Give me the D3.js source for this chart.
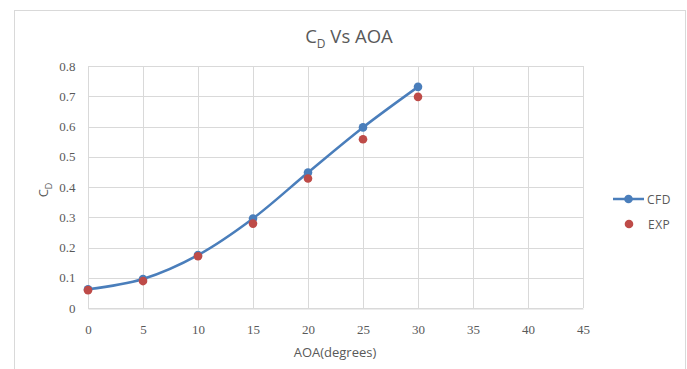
<!DOCTYPE html>
<html>
<head>
<meta charset="utf-8">
<script src="https://cdn.jsdelivr.net/npm/d3@7"></script>
<style>
  html, body { margin: 0; padding: 0; background: #fff; }
  svg { display: block; }
</style>
</head>
<body>
<svg id="chart" width="687" height="369"></svg>
<script>
// Drag coefficient against angle of attack
const aoa = [0, 5, 10, 15, 20, 25, 30];
const cfd = [0.062, 0.096, 0.175, 0.296, 0.448, 0.597, 0.731];
const exp = [0.059, 0.089, 0.171, 0.279, 0.428, 0.558, 0.698];
const xTicks = [0, 5, 10, 15, 20, 25, 30, 35, 40, 45];
const yTicks = [0, 0.1, 0.2, 0.3, 0.4, 0.5, 0.6, 0.7, 0.8];

const svg = d3.select("#chart");
const blue = "#4a7ebb", red = "#be4b48", grid = "#d9d9d9", txt = "#595959";
const sans = "'Open Sans', 'Noto Sans', sans-serif";
const serif = "'Liberation Serif', 'DejaVu Serif', serif";

// chart area frame
svg.append("rect").attr("x", 14.5).attr("y", 10.5).attr("width", 671).attr("height", 380)
  .attr("fill", "#fff").attr("stroke", "#d9d9d9").attr("stroke-width", 1);

const x = d3.scaleLinear().domain([0, 45]).range([88, 583]);
const y = d3.scaleLinear().domain([0, 0.8]).range([308, 66]);

// gridlines
svg.append("g").selectAll("line").data(yTicks).join("line")
  .attr("x1", x(0)).attr("x2", x(45))
  .attr("y1", d => Math.round(y(d)) + 0.5).attr("y2", d => Math.round(y(d)) + 0.5)
  .attr("stroke", grid);
svg.append("g").selectAll("line").data(xTicks).join("line")
  .attr("y1", y(0)).attr("y2", y(0.8))
  .attr("x1", d => Math.round(x(d)) + 0.5).attr("x2", d => Math.round(x(d)) + 0.5)
  .attr("stroke", grid);

// axes
const xAxis = svg.append("g").attr("transform", `translate(0,${Math.round(y(0)) + 0.5})`)
  .call(d3.axisBottom(x).tickValues(xTicks).tickSize(0).tickPadding(16).tickFormat(d3.format("d")));
const yAxis = svg.append("g").attr("transform", `translate(${Math.round(x(0)) + 0.5},0)`)
  .call(d3.axisLeft(y).tickValues(yTicks).tickSize(0).tickPadding(13).tickFormat(d => d === 0 ? "0" : d3.format(".1f")(d)));
[xAxis, yAxis].forEach(a => {
  a.select(".domain").attr("stroke", grid);
  a.selectAll("text").attr("fill", txt).style("font-family", serif).style("font-size", "13px");
});
yAxis.select(".domain").remove();

// title
const title = svg.append("text").attr("x", 349).attr("y", 43).attr("text-anchor", "middle")
  .attr("fill", txt).style("font-family", sans).style("font-size", "18.5px");
title.append("tspan").text("C");
title.append("tspan").attr("dy", 5).style("font-size", "12px").text("D");
title.append("tspan").attr("dy", -5).text(" Vs AOA");

// axis titles
svg.append("text").attr("x", 335).attr("y", 357).attr("text-anchor", "middle")
  .attr("fill", txt).style("font-family", sans).style("font-size", "13px").text("AOA(degrees)");
const yl = svg.append("text").attr("transform", "translate(48,190) rotate(-90)").attr("text-anchor", "middle")
  .attr("fill", txt).style("font-family", sans).style("font-size", "13px");
yl.append("tspan").text("C");
yl.append("tspan").attr("dy", 4).style("font-size", "9px").text("D");

// CFD smoothed line
const cfdPts = aoa.map((a, i) => [a, cfd[i]]);
svg.append("path").datum(cfdPts)
  .attr("d", d3.line().x(d => x(d[0])).y(d => y(d[1])).curve(d3.curveCatmullRom.alpha(0.5)))
  .attr("fill", "none").attr("stroke", blue).attr("stroke-width", 2.5);
svg.append("g").selectAll("circle").data(cfdPts).join("circle")
  .attr("cx", d => x(d[0])).attr("cy", d => y(d[1])).attr("r", 4.3).attr("fill", blue);

// EXP markers
const expPts = aoa.map((a, i) => [a, exp[i]]);
svg.append("g").selectAll("circle").data(expPts).join("circle")
  .attr("cx", d => x(d[0])).attr("cy", d => y(d[1])).attr("r", 4.3).attr("fill", red);

// legend
const lg = svg.append("g");
lg.append("line").attr("x1", 613).attr("x2", 644).attr("y1", 199).attr("y2", 199)
  .attr("stroke", blue).attr("stroke-width", 2.5);
lg.append("circle").attr("cx", 628.5).attr("cy", 199).attr("r", 4.3).attr("fill", blue);
lg.append("text").attr("x", 647).attr("y", 203.5).attr("fill", txt)
  .style("font-family", sans).style("font-size", "12px").style("letter-spacing", "0.5px").text("CFD");
lg.append("circle").attr("cx", 629).attr("cy", 224).attr("r", 4.3).attr("fill", red);
lg.append("text").attr("x", 648).attr("y", 228.5).attr("fill", txt)
  .style("font-family", sans).style("font-size", "12px").style("letter-spacing", "0.5px").text("EXP");
</script>
</body>
</html>
